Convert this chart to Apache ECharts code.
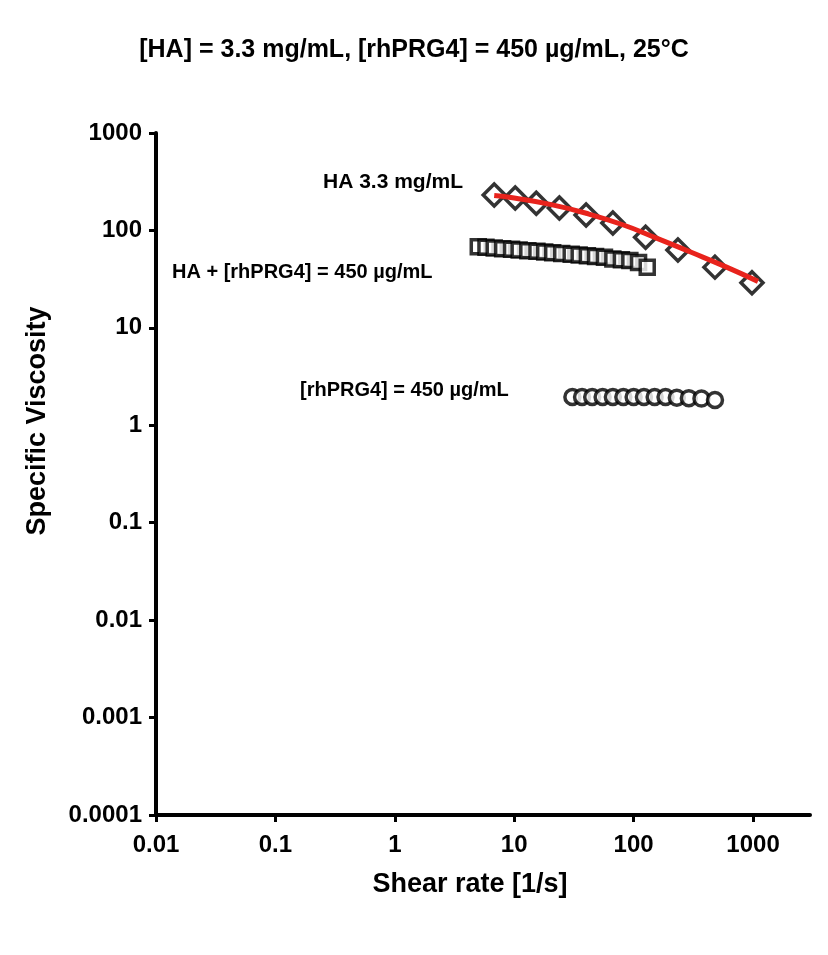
<!DOCTYPE html>
<html><head><meta charset="utf-8">
<script src="https://cdn.jsdelivr.net/npm/echarts@6/dist/echarts.min.js"></script>
<style>html,body{margin:0;padding:0;background:#fff}#c{width:828px;height:955px}</style>
</head><body><div id="c"></div>
<script>
const haX = [6.8, 10.2, 15.3, 23.9, 40, 67, 126, 235, 480, 980];
const haY = [231, 215, 190, 170, 144, 119, 85, 63, 42, 29];
const fitX = [6.8, 10, 20, 40, 80, 150, 300, 600, 1100];
const fitY = [228, 215, 185, 150, 115, 85, 60, 42, 30];
const mixX = [5, 5.8, 6.8, 8, 9.5, 11, 13, 15.5, 18, 21, 25, 30, 35, 41, 48, 57, 67, 79, 93, 110, 130];
const mixY = [68, 67, 66, 65, 64, 63, 62, 61, 60, 59, 58, 57, 56, 55, 54, 53, 51, 50, 49, 47, 42];
const prgX = [30.7, 37, 45, 55, 67, 82, 100, 122, 150, 185, 230, 290, 370, 480];
const prgY = [1.95, 1.95, 1.95, 1.95, 1.95, 1.95, 1.95, 1.95, 1.95, 1.95, 1.92, 1.9, 1.88, 1.82];
const xTicks = ['0.01','0.1','1','10','100','1000'];
const yTicks = ['0.0001','0.001','0.01','0.1','1','10','100','1000'];

const pair = (xs, ys) => xs.map((x, i) => [x, ys[i]]);
const F = 'Liberation Sans, Arial, sans-serif';
const fmt = (list) => (v) => { const s = list.find(t => Math.abs(parseFloat(t) - v) / v < 1e-6); return s || ''; };
const mk = {color:'#fff', borderColor:'#000', borderWidth:3.5};
const chart = echarts.init(document.getElementById('c'));
chart.setOption({
  animation:false,
  title:{text:'[HA] = 3.3 mg/mL, [rhPRG4] = 450 µg/mL, 25°C', left:'center', top:33,
    textStyle:{fontFamily:F, fontWeight:'bold', fontSize:25, color:'#000'}},
  grid:{left:156, right:18, top:133, bottom:140},
  xAxis:{type:'log', logBase:10, min:0.01, max:3000,
    axisLine:{lineStyle:{color:'#000', width:4}},
    axisTick:{show:true, length:7, lineStyle:{width:3, color:'#000'}},
    splitLine:{show:false}, minorTick:{show:false},
    axisLabel:{formatter:fmt(xTicks), color:'#000', fontFamily:F, fontWeight:'bold', fontSize:24, margin:18, showMaxLabel:false}},
  yAxis:{type:'log', logBase:10, min:0.0001, max:1000,
    axisLine:{lineStyle:{color:'#000', width:4}},
    axisTick:{show:true, length:7, lineStyle:{width:3, color:'#000'}},
    splitLine:{show:false},
    axisLabel:{formatter:fmt(yTicks), color:'#000', fontFamily:F, fontWeight:'bold', fontSize:24, margin:14}},
  series:[
    {type:'scatter', data:pair(mixX, mixY), symbol:'rect', symbolSize:14, itemStyle:mk},
    {type:'scatter', data:pair(prgX, prgY), symbol:'circle', symbolSize:15, itemStyle:mk},
    {type:'scatter', data:pair(haX, haY), symbol:'diamond', symbolSize:[22,22], itemStyle:mk},
    {type:'line', data:pair(fitX, fitY), smooth:true, symbol:'none', lineStyle:{color:'#e8231c', width:5}}
  ],
  graphic:[
    {type:'text', left:323, top:172, style:{text:'HA 3.3 mg/mL', font:'bold 21px '+F, fill:'#000'}},
    {type:'text', left:172, top:262, style:{text:'HA + [rhPRG4] = 450 µg/mL', font:'bold 20px '+F, fill:'#000'}},
    {type:'text', left:300, top:380, style:{text:'[rhPRG4] = 450 µg/mL', font:'bold 20px '+F, fill:'#000'}},
    {type:'text', x:38, y:421, rotation:Math.PI/2, style:{text:'Specific Viscosity', font:'bold 27px '+F, fill:'#000', align:'center', verticalAlign:'middle'}},
    {type:'text', x:470, y:885, style:{text:'Shear rate [1/s]', font:'bold 27px '+F, fill:'#000', align:'center', verticalAlign:'middle'}}
  ]
});
</script></body></html>
